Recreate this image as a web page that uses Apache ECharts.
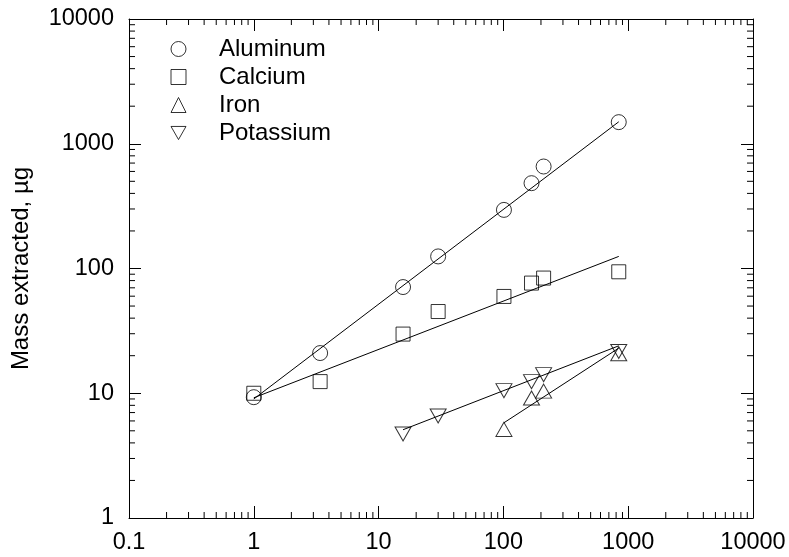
<!DOCTYPE html>
<html>
<head>
<meta charset="utf-8">
<script src="https://cdn.jsdelivr.net/npm/echarts@6/dist/echarts.min.js"></script>
<style>
html,body{margin:0;padding:0;background:#fff;}
#chart{width:789px;height:557px;}
</style>
</head>
<body>
<div id="chart"></div>
<script>
// ---- data ----
const xValues = [1, 3.4, 15.7, 30, 101, 168, 210, 840];
const aluminum = [9.3, 21.0, 71.0, 125, 295, 483, 657, 1490];
const calcium = [10.0, 12.4, 29.8, 45.2, 59.7, 76.4, 83.8, 94.1];
const ironX = [101, 168, 210, 840];
const iron = [5.13, 9.15, 10.4, 20.7];
const potassiumX = [15.7, 30, 101, 168, 210, 840];
const potassium = [4.71, 6.57, 10.5, 12.4, 14.1, 21.6];

// fitted lines (endpoints)
const aluminumFitX = [1, 840];
const aluminumFit = [9.0, 1500];
const calciumFitX = [1, 840];
const calciumFit = [9.2, 125];
const ironFitX = [101, 840];
const ironFit = [5.8, 23.0];
const potassiumFitX = [15.7, 840];
const potassiumFit = [5.1, 24.0];

const seriesNames = ['Aluminum', 'Calcium', 'Iron', 'Potassium'];
const yAxisTitle = 'Mass extracted, µg';
const xRange = [0.1, 10000];
const yRange = [1, 10000];

// minor tick values (2..9 per decade)
const xMinor = [];
for (let e = -1; e < 4; e++) for (let m = 2; m <= 9; m++) xMinor.push(+(m * Math.pow(10, e)).toPrecision(6));
const yMinor = [];
for (let e = 0; e < 4; e++) for (let m = 2; m <= 9; m++) yMinor.push(+(m * Math.pow(10, e)).toPrecision(6));

const zip = (xs, ys) => xs.map((x, i) => [x, ys[i]]);
const FONT = "'Liberation Sans', Arial, sans-serif";
const fmt = v => String(parseFloat((+v).toPrecision(6)));
const downTri = 'path://M0,0L16,0L8,14Z';

const markerStyle = { color: 'rgba(0,0,0,0)', borderColor: '#000', borderWidth: 1 };
const lineStyle = { color: '#000', width: 1 };

function scatter(name, data, symbol, size) {
  return { name, type: 'scatter', data, symbol, symbolSize: size, itemStyle: markerStyle,
    emphasis: { disabled: true }, z: 3, xAxisIndex: 0, yAxisIndex: 0 };
}
function fit(name, data) {
  return { name, type: 'line', data, symbol: 'none', lineStyle, itemStyle: { color: '#000' },
    emphasis: { disabled: true }, z: 2, xAxisIndex: 0, yAxisIndex: 0 };
}

const axisCommon = {
  axisLine: { show: true, onZero: false, lineStyle: { color: '#000', width: 1 } },
  axisTick: { show: true, inside: true, length: 12, lineStyle: { color: '#000', width: 1 } },
  splitLine: { show: false },
  minorTick: { show: false }
};

const option = {
  animation: false,
  backgroundColor: '#fff',
  grid: { left: 129, right: 36, top: 19, bottom: 39 },
  legend: {
    orient: 'vertical', left: 165.5, top: 32, padding: 5, itemWidth: 15, itemHeight: 15, itemGap: 4,
    data: [
      { name: seriesNames[0], icon: 'circle' },
      { name: seriesNames[1], icon: 'rect' },
      { name: seriesNames[2], icon: 'triangle' },
      { name: seriesNames[3], icon: downTri }
    ],
    itemStyle: { color: 'rgba(0,0,0,0)', borderColor: '#000', borderWidth: 1 },
    textStyle: { fontFamily: FONT, fontSize: 24, color: '#000', padding: [0, 0, 0, 28] },
    selectedMode: false
  },
  xAxis: [
    Object.assign({ type: 'log', logBase: 10, min: xRange[0], max: xRange[1], position: 'bottom',
      axisLabel: { show: true, formatter: fmt, fontFamily: FONT, fontSize: 23.5, color: '#000', margin: 13 } }, axisCommon),
    Object.assign({ type: 'log', logBase: 10, min: xRange[0], max: xRange[1], position: 'top',
      axisLabel: { show: false } }, axisCommon)
  ],
  yAxis: [
    Object.assign({ type: 'log', logBase: 10, min: yRange[0], max: yRange[1], position: 'left',
      name: yAxisTitle, nameLocation: 'middle', nameGap: 96,
      nameTextStyle: { fontFamily: FONT, fontSize: 24, color: '#000' },
      axisLabel: { show: true, formatter: fmt, fontFamily: FONT, fontSize: 23.5, color: '#000', margin: 15 } }, axisCommon),
    Object.assign({ type: 'log', logBase: 10, min: yRange[0], max: yRange[1], position: 'right',
      axisLabel: { show: false } }, axisCommon)
  ],
  series: [
    fit('Aluminum fit', zip(aluminumFitX, aluminumFit)),
    fit('Calcium fit', zip(calciumFitX, calciumFit)),
    fit('Iron fit', zip(ironFitX, ironFit)),
    fit('Potassium fit', zip(potassiumFitX, potassiumFit)),
    scatter(seriesNames[0], zip(xValues, aluminum), 'circle', 15),
    scatter(seriesNames[1], zip(xValues, calcium), 'rect', 14),
    scatter(seriesNames[2], zip(ironX, iron), 'triangle', [16, 14]),
    scatter(seriesNames[3], zip(potassiumX, potassium), downTri, [16, 14]),
    {
      type: 'custom', name: 'xMinorTicks', xAxisIndex: 0, yAxisIndex: 0, clip: false, silent: true, z: 1,
      data: xMinor.map(v => [v, yRange[0]]),
      renderItem: function (params, api) {
        const cs = params.coordSys;
        const p = api.coord([api.value(0), api.value(1)]);
        const b = cs.y + cs.height, t = cs.y;
        return { type: 'group', children: [
          { type: 'line', shape: { x1: p[0], y1: b, x2: p[0], y2: b - 6 }, style: { stroke: '#000', lineWidth: 1 } },
          { type: 'line', shape: { x1: p[0], y1: t, x2: p[0], y2: t + 6 }, style: { stroke: '#000', lineWidth: 1 } }
        ] };
      }
    },
    {
      type: 'custom', name: 'yMinorTicks', xAxisIndex: 0, yAxisIndex: 0, clip: false, silent: true, z: 1,
      data: yMinor.map(v => [xRange[0], v]),
      renderItem: function (params, api) {
        const cs = params.coordSys;
        const p = api.coord([api.value(0), api.value(1)]);
        const l = cs.x, r = cs.x + cs.width;
        return { type: 'group', children: [
          { type: 'line', shape: { x1: l, y1: p[1], x2: l + 6, y2: p[1] }, style: { stroke: '#000', lineWidth: 1 } },
          { type: 'line', shape: { x1: r, y1: p[1], x2: r - 6, y2: p[1] }, style: { stroke: '#000', lineWidth: 1 } }
        ] };
      }
    }
  ]
};

const chart = echarts.init(document.getElementById('chart'), null, { renderer: 'canvas' });
chart.setOption(option);
</script>
</body>
</html>
